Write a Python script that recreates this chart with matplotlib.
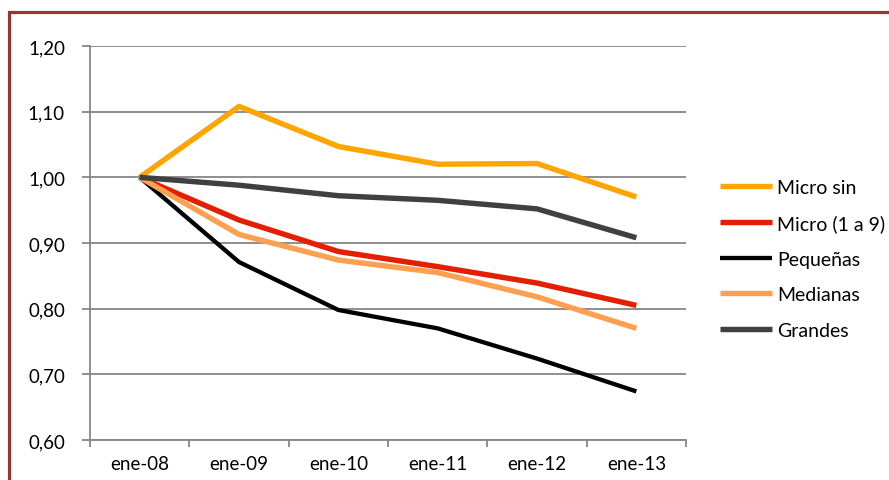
import matplotlib.pyplot as plt
from matplotlib.patches import Rectangle

fechas = ["ene-08", "ene-09", "ene-10", "ene-11", "ene-12", "ene-13"]
micro_sin = [1.00, 1.108, 1.047, 1.020, 1.021, 0.970]
micro_1a9 = [1.00, 0.935, 0.887, 0.864, 0.839, 0.805]
pequenas = [1.00, 0.871, 0.798, 0.770, 0.724, 0.674]
medianas = [1.00, 0.913, 0.874, 0.855, 0.818, 0.770]
grandes = [1.00, 0.988, 0.972, 0.965, 0.952, 0.908]

series = [
    ("Micro sin", micro_sin, "#FFA500", 3.9),
    ("Micro (1 a 9)", micro_1a9, "#E41E00", 3.9),
    ("Pequeñas", pequenas, "#000000", 3.1),
    ("Medianas", medianas, "#FFA050", 3.9),
    ("Grandes", grandes, "#404040", 3.9),
]

plt.rcParams['font.family'] = ['Lato', 'DejaVu Sans']

fig = plt.figure(figsize=(8.89, 4.81), dpi=100)
ax = fig.add_axes([90 / 889, 1 - 441 / 481, 596 / 889, 394 / 481])

x = list(range(len(fechas)))
for name, vals, color, lw in series:
    ax.plot(x, vals, color=color, lw=lw, label=name, solid_capstyle='butt', solid_joinstyle='round')

ax.set_xlim(-0.5, len(fechas) - 0.5)
ax.set_ylim(0.60, 1.20)
ax.set_yticks([0.6 + 0.1 * i for i in range(7)])
ax.set_yticklabels([f"{0.6 + 0.1 * i:.2f}".replace(".", ",") for i in range(7)])
ax.set_xticks(x)
ax.set_xticklabels(fechas)
ax.set_xticks([i - 0.5 for i in range(len(fechas) + 1)], minor=True)
ax.tick_params(axis='x', which='major', length=0, pad=11, labelsize=13.5)
ax.tick_params(axis='x', which='minor', length=5, width=1.3, color='#868686')
ax.tick_params(axis='y', length=6, width=1.3, color='#868686', pad=12, labelsize=13.5)
ax.yaxis.grid(True, color='#868686', lw=1.3)
ax.set_axisbelow(True)
for s in ['top', 'right']:
    ax.spines[s].set_visible(False)
for s in ['left', 'bottom']:
    ax.spines[s].set_color('#868686')
    ax.spines[s].set_linewidth(1.3)

fig.legend(loc='upper left', bbox_to_anchor=(710 / 889, 1 - 170 / 481), frameon=False,
           fontsize=14, handlelength=2.7, handletextpad=0.25, labelspacing=0.95, borderpad=0)

fig.patches.append(Rectangle((9 / 889, -0.05), 1.1, 1 - 13 / 481 + 0.05, transform=fig.transFigure,
                             fill=False, edgecolor='#953735', lw=2.3))

fig.savefig("out.png", dpi=100)
